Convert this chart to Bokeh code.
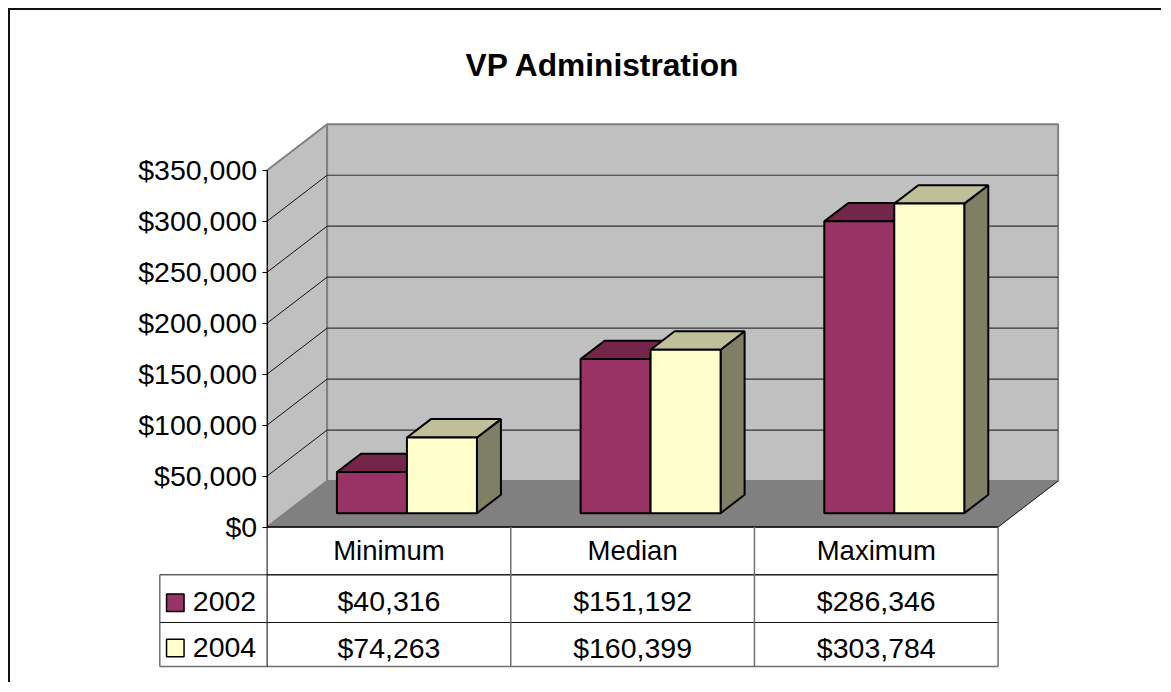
from bokeh.embed import file_html
from bokeh.resources import INLINE
from bokeh.plotting import figure
from bokeh.models import Range1d, FixedTicker, NumeralTickFormatter
from bokeh.core.properties import value

TITLE = "VP Administration"
categories = ["Minimum", "Median", "Maximum"]
years = ["2002", "2004"]
values_2002 = [40316, 151192, 286346]
values_2004 = [74263, 160399, 303784]
y_ticks = [0, 50000, 100000, 150000, 200000, 250000, 300000, 350000]
front_colors = ["#993366", "#FFFFCC"]
top_colors = ["#732649", "#BFBF99"]
side_colors = ["#732649", "#7F7F66"]

FONT = "Liberation Sans"
# layout, in picture pixels
X0, CAT_W = 267.3, 243.67
Y0, Y_SPAN = 526.5, 356.7
WALL_DX, WALL_DY = 60.0, 46.0
BAR_W = 70.0
ROWS = [526.5, 574.3, 622.0, 666.0]
TABLE_LEFT = 160.0
FIG_L, FIG_T, FRAME_T = 10, 10, 90
RIGHT, BOTTOM = 1163, 684
X_NUDGE = 0.7
YMAX = 350000


def fx(px):
    return (px - X0) / CAT_W


def fy(py):
    return (Y0 - py) / Y_SPAN * YMAX


dx_u = WALL_DX / CAT_W
dy_u = WALL_DY / Y_SPAN * YMAX
bar_u = BAR_W / CAT_W

p = figure(
    width=RIGHT - FIG_L, height=BOTTOM - FIG_T,
    x_range=Range1d(fx(FIG_L + X_NUDGE), fx(RIGHT + X_NUDGE)), y_range=Range1d(fy(BOTTOM), fy(FRAME_T)),
    output_backend="svg", toolbar_location=None,
    min_border_left=0, min_border_right=0, min_border_bottom=0,
    min_border_top=FRAME_T - FIG_T,
    outline_line_color=None, background_fill_color="white",
    margin=(FIG_T, 0, 0, FIG_L),
    styles={"box-shadow": "-2px -2px 0 0 #111"},
    title=TITLE,
)
p.title.text_font = FONT
p.title.text_font_size = "31.7px"
p.title.text_font_style = "bold"
p.title.text_color = "black"
p.title.align = "left"
p.title.offset = 455
p.title.standoff = 15
p.grid.visible = False

# walls and floor
top = YMAX
p.patch([0, dx_u, dx_u, 0], [0, dy_u, top + dy_u, top], fill_color="#C0C0C0", line_color="#808080", line_width=2)
p.patch([dx_u, 3 + dx_u, 3 + dx_u, dx_u], [dy_u, dy_u, top + dy_u, top + dy_u],
        fill_color="#C0C0C0", line_color="#808080", line_width=2)
p.patch([0, 3, 3 + dx_u, dx_u], [0, 0, dy_u, dy_u], fill_color="#808080", line_color="#808080", line_width=1)
p.line([3, 3 + dx_u], [0, dy_u], line_color="#222222", line_width=1)
p.line([0, 3], [0, 0], line_color="black", line_width=1.5)

grid = [t for t in y_ticks if 0 < t < YMAX]
p.multi_line([[0, dx_u] for _ in grid], [[t, t + dy_u] for t in grid], line_color="#111111", line_width=1)
p.multi_line([[dx_u, 3 + dx_u] for _ in grid], [[t + dy_u, t + dy_u] for t in grid],
             line_color="#333333", line_width=1.2)

# bars
inset = (1 - 2 * bar_u) / 2 + 0.3 * dx_u
base = 0.3 * dy_u
depth_x, depth_y = 0.4 * dx_u, 0.4 * dy_u
for s, vals in enumerate([values_2002, values_2004]):
    lefts = [i + inset + s * bar_u for i in range(len(categories))]
    rights = [l + bar_u for l in lefts]
    tops = [base + v for v in vals]
    p.patches([[r, r + depth_x, r + depth_x, r] for r in rights],
              [[base, base + depth_y, t + depth_y, t] for t in tops],
              fill_color=side_colors[s], line_color="black", line_width=2)
    p.patches([[l, r, r + depth_x, l + depth_x] for l, r in zip(lefts, rights)],
              [[t, t, t + depth_y, t + depth_y] for t in tops],
              fill_color=top_colors[s], line_color="black", line_width=2)
    p.quad(left=lefts, right=rights, bottom=[base] * 3, top=tops,
           fill_color=front_colors[s], line_color="black", line_width=2)

# data table grid
n = len(categories)
x_left = fx(TABLE_LEFT)
p.multi_line([[0, n], [x_left, n], [x_left, n]], [[fy(ROWS[1])] * 2, [fy(ROWS[1])] * 2, [fy(ROWS[2])] * 2],
             line_color="#111111", line_width=1)
p.line([x_left, n], [fy(ROWS[3])] * 2, line_color="#707070", line_width=1.5)
p.line([x_left, x_left], [fy(ROWS[1]), fy(ROWS[3])], line_color="#707070", line_width=1.5)
p.line([0, 0], [0, fy(ROWS[3])], line_color="black", line_width=1)
p.multi_line([[i, i] for i in range(1, n + 1)], [[0, fy(ROWS[3])] for _ in range(1, n + 1)],
             line_color="#707070", line_width=1.5)

# table text
row_y = [fy((ROWS[1] + ROWS[2]) / 2 + 2.5), fy((ROWS[2] + ROWS[3]) / 2 + 3)]
key_y = [fy((ROWS[1] + ROWS[2]) / 2 + 4), fy((ROWS[2] + ROWS[3]) / 2 + 3.5)]
for s, vals in enumerate([values_2002, values_2004]):
    p.text([i + 0.5 for i in range(n)], [row_y[s]] * n, text=[f"${v:,}" for v in vals],
           text_font=value(FONT), text_font_size="28.5px", text_color="black",
           text_align="center", text_baseline="middle")
    p.text([fx(193)], [row_y[s]], text=[years[s]], text_font=value(FONT), text_font_size="28.5px",
           text_color="black", text_align="left", text_baseline="middle")
    p.rect([fx(175.5)], [key_y[s]], width=17.5, height=17.5, width_units="screen", height_units="screen",
           fill_color=front_colors[s], line_color="black", line_width=1.5)

# axes
ya = p.yaxis[0]
ya.fixed_location = 0
ya.bounds = (0, YMAX)
ya.ticker = FixedTicker(ticks=y_ticks)
ya.formatter = NumeralTickFormatter(format="$0,0")
ya.major_tick_out, ya.major_tick_in = 5, 0
ya.minor_tick_out, ya.minor_tick_in = 0, 0
ya.major_label_standoff = 5
ya.major_label_text_font = FONT
ya.major_label_text_font_size = "28.5px"
ya.major_label_text_color = "black"
ya.axis_line_color = "black"
ya.major_tick_line_color = "black"

xa = p.xaxis[0]
xa.fixed_location = 0
xa.ticker = FixedTicker(ticks=[i + 0.5 for i in range(n)])
xa.major_label_overrides = {i + 0.5: c for i, c in enumerate(categories)}
xa.major_tick_out, xa.major_tick_in = 0, 0
xa.minor_tick_out, xa.minor_tick_in = 0, 0
xa.major_label_standoff = 8
xa.major_label_text_font = FONT
xa.major_label_text_font_size = "27.5px"
xa.major_label_text_color = "black"
xa.axis_line_color = None

open("out.html", "w").write(file_html(p, INLINE))
